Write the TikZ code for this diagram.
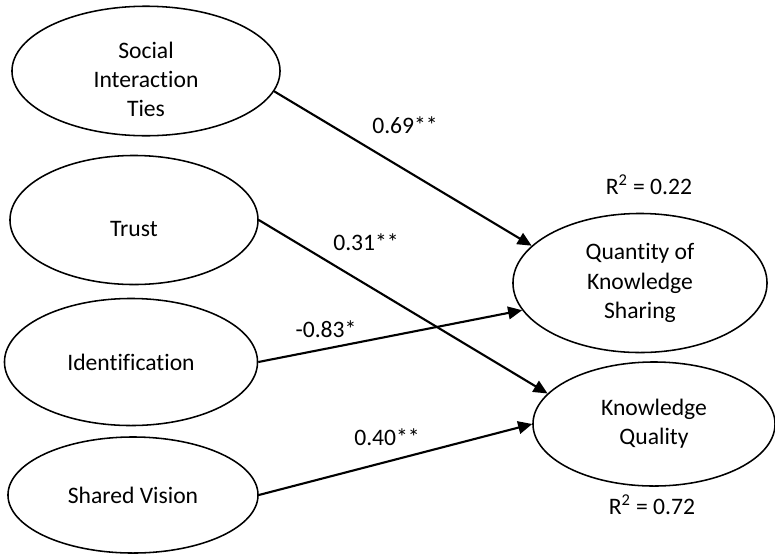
\documentclass[tikz,border=0pt]{standalone}
\usepackage{fontspec}
\setmainfont{Carlito}[Ligatures=NoCommon]
\usetikzlibrary{shapes.geometric,arrows.meta}

\tikzset{
  construct/.style={draw, ellipse, line width=1.1pt, inner sep=0pt, align=center},
  path/.style={line width=1.5pt, -{Triangle[length=10pt,width=9pt]}},
  coef/.style={inner sep=0pt}
}

\begin{document}
\begin{tikzpicture}[x=0.025cm, y=-0.025cm, font=\fontsize{16.8}{20.8}\selectfont]
  \useasboundingbox (0,0) rectangle (775,554);

  % latent constructs
  \node[construct, minimum width=6.7cm, minimum height=3.2cm, text height=65pt] (sit) at (146,71) {Social\\Interaction\\Ties};
  \node[construct, minimum width=6.2cm, minimum height=3.225cm, text height=23.5pt] (trust) at (134,220) {Trust};
  \node[construct, minimum width=6.325cm, minimum height=3.175cm] (ident) at (131,362) {Identification};
  \node[construct, minimum width=6.25cm, minimum height=2.9cm] (vision) at (133,495) {Shared Vision};
  \node[construct, minimum width=6.35cm, minimum height=3.475cm] (qks) at (640,283) {Quantity of\\Knowledge\\Sharing};
  \node[construct, minimum width=6.05cm, minimum height=3.1cm] (kq) at (654,424) {Knowledge\\Quality};

  % paths
  \draw[path] (sit.-9) -- (qks.161);
  \draw[path] (trust.east) -- (kq.164);
  \draw[path] (ident.east) -- (qks.193);
  \draw[path] (vision.east) -- (kq.west);

  % coefficients
  \node[coef] (c1) at (405,125) {0.69**};
  \node[coef] (c2) at (366,242) {0.31**};
  \node[coef] (c3) at (326,329) {-0.83*};
  \node[coef] (c4) at (387,437) {0.40**};
  \node[coef] (r1) at (649,185) {R\textsuperscript{2} = 0.22};
  \node[coef] (r2) at (652,505) {R\textsuperscript{2} = 0.72};
\end{tikzpicture}
\end{document}
